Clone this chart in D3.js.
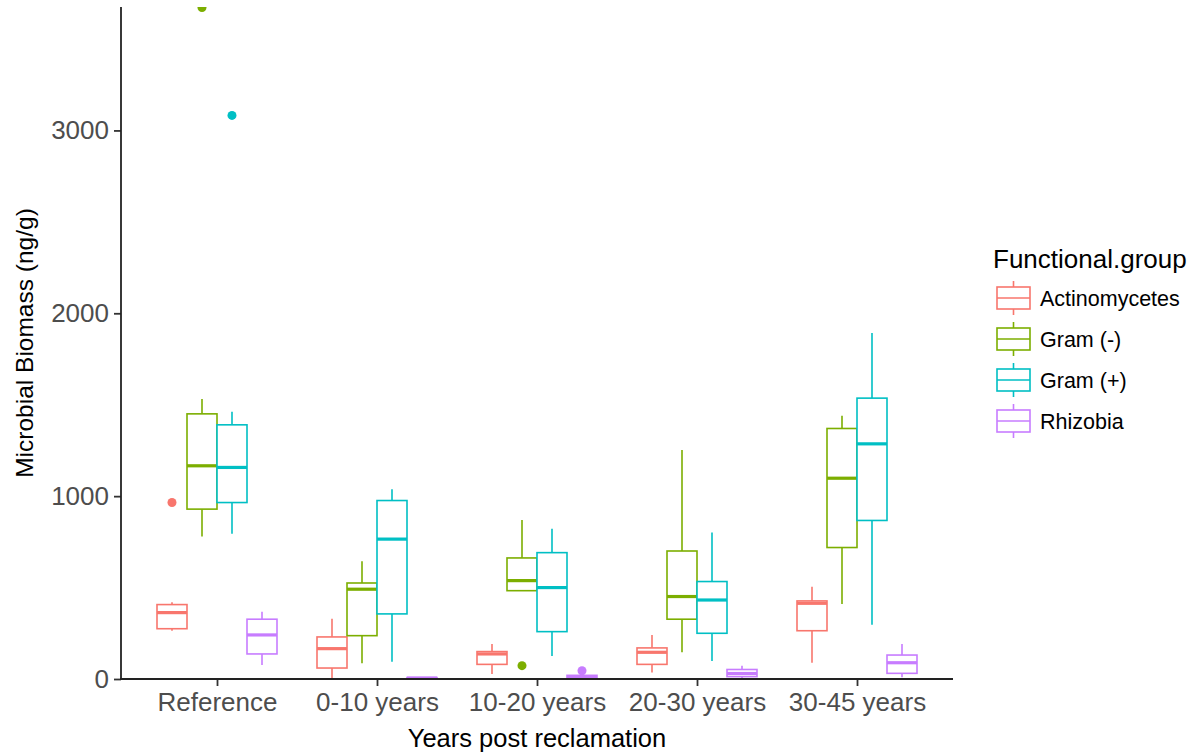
<!DOCTYPE html>
<html>
<head>
<meta charset="utf-8">
<script src="https://cdn.jsdelivr.net/npm/d3@7"></script>
<style>
  body { margin: 0; background: #fff; }
  svg { font-family: "Liberation Sans", Arial, sans-serif; }
</style>
</head>
<body>
<div id="chart"></div>
<script>
// categories and groups
const categories = ["Reference", "0-10 years", "10-20 years", "20-30 years", "30-45 years"];
const groups = ["Actinomycetes", "Gram (-)", "Gram (+)", "Rhizobia"];
const groupColors = ["#F8766D", "#7CAE00", "#00BFC4", "#C77CFF"];

// box stats per category: [lower whisker, q1, median, q3, upper whisker]
const actinomycetes = [[264, 275, 363, 407, 420], [5, 60, 166, 230, 330], [27, 80, 137, 150, 192], [35, 80, 146, 170, 241], [89, 264, 414, 427, 505]];
const gramNeg = [[779, 929, 1166, 1450, 1531], [86, 237, 491, 525, 644], [483, 483, 538, 662, 870], [146, 327, 451, 700, 1253], [410, 719, 1098, 1370, 1440]];
const gramPos = [[794, 965, 1157, 1390, 1461], [95, 356, 765, 976, 1038], [126, 259, 500, 691, 821], [98, 250, 432, 533, 801], [296, 867, 1286, 1536, 1892]];
const rhizobia = [[77, 137, 241, 327, 368], [0, 2, 5, 8, 10], [0, 5, 10, 20, 25], [0, 13, 30, 52, 72], [9, 31, 89, 131, 192]];

// outliers: [category, group, value]
const outliers = [
    ["Reference", "Actinomycetes", 965],
    ["Reference", "Gram (-)", 3672],
    ["Reference", "Gram (+)", 3082],
    ["10-20 years", "Gram (-)", 73],
    ["10-20 years", "Rhizobia", 45]
];

const yTicks = [0, 1000, 2000, 3000];

const width = 1194, height = 755;
const panel = {left: 121, right: 953, top: 7, bottom: 679};

let svg = d3.select("#chart").append("svg")
    .attr("width", width)
    .attr("height", height);

let x = d3.scalePoint()
    .domain(categories)
    .range([panel.left, panel.right])
    .padding(0.6);

let dodge = d3.scaleBand()
    .domain(groups)
    .range([-x.step() * 0.375, x.step() * 0.375]);

let y = d3.scaleLinear()
    .domain([0, 3675])
    .range([panel.bottom, panel.top]);

let color = d3.scaleOrdinal().domain(groups).range(groupColors);

svg.append("clipPath").attr("id", "clip")
    .append("rect")
    .attr("x", panel.left).attr("y", panel.top)
    .attr("width", panel.right - panel.left)
    .attr("height", panel.bottom - panel.top);

// build box table
let stats = [actinomycetes, gramNeg, gramPos, rhizobia];
let boxes = [];
groups.forEach((g, gi) => {
    categories.forEach((c, ci) => {
        let s = stats[gi][ci];
        boxes.push({cat: c, group: g, lo: s[0], q1: s[1], med: s[2], q3: s[3], hi: s[4]});
    });
});

let plot = svg.append("g").attr("clip-path", "url(#clip)");
let bw = dodge.bandwidth();

let boxG = plot.selectAll("g.box")
    .data(boxes)
    .enter().append("g")
    .attr("class", "box")
    .attr("transform", d => `translate(${x(d.cat) + dodge(d.group) + bw / 2},0)`);

// whiskers
boxG.append("line")
    .attr("x1", 0).attr("x2", 0)
    .attr("y1", d => y(d.hi)).attr("y2", d => y(d.q3))
    .attr("stroke", d => color(d.group)).attr("stroke-width", 1.6);
boxG.append("line")
    .attr("x1", 0).attr("x2", 0)
    .attr("y1", d => y(d.q1)).attr("y2", d => y(d.lo))
    .attr("stroke", d => color(d.group)).attr("stroke-width", 1.6);

// box
boxG.append("rect")
    .attr("x", -bw / 2)
    .attr("width", bw)
    .attr("y", d => y(d.q3))
    .attr("height", d => Math.max(0.5, y(d.q1) - y(d.q3)))
    .attr("fill", "white")
    .attr("stroke", d => color(d.group))
    .attr("stroke-width", 1.6);

// median
boxG.append("line")
    .attr("x1", -bw / 2).attr("x2", bw / 2)
    .attr("y1", d => y(d.med)).attr("y2", d => y(d.med))
    .attr("stroke", d => color(d.group))
    .attr("stroke-width", 3.2);

// outliers
plot.selectAll("circle.out")
    .data(outliers)
    .enter().append("circle")
    .attr("class", "out")
    .attr("cx", d => x(d[0]) + dodge(d[1]) + bw / 2)
    .attr("cy", d => y(d[2]))
    .attr("r", 4.5)
    .attr("fill", d => color(d[1]));

// axes
let yAxis = svg.append("g")
    .attr("transform", `translate(${panel.left},0)`)
    .call(d3.axisLeft(y).tickValues(yTicks).tickSize(7).tickPadding(5).tickFormat(d3.format("d")));
let xAxis = svg.append("g")
    .attr("transform", `translate(0,${panel.bottom})`)
    .call(d3.axisBottom(x).tickSize(7).tickPadding(7));

[yAxis, xAxis].forEach(a => {
    a.select(".domain").remove();
    a.selectAll(".tick line").attr("stroke", "#333").attr("stroke-width", 1.8);
    a.selectAll(".tick text")
        .attr("fill", "#4D4D4D")
        .style("font-size", "26px");
});

svg.append("line")
    .attr("x1", panel.left).attr("x2", panel.left)
    .attr("y1", panel.top).attr("y2", panel.bottom + 0.9)
    .attr("stroke", "#222").attr("stroke-width", 1.8);
svg.append("line")
    .attr("x1", panel.left - 0.9).attr("x2", panel.right)
    .attr("y1", panel.bottom).attr("y2", panel.bottom)
    .attr("stroke", "#222").attr("stroke-width", 1.8);

// axis titles
svg.append("text")
    .attr("x", (panel.left + panel.right) / 2)
    .attr("y", 747)
    .attr("text-anchor", "middle")
    .style("font-size", "25.5px")
    .attr("fill", "black")
    .text("Years post reclamation");

svg.append("text")
    .attr("transform", `translate(33,${(panel.top + panel.bottom) / 2}) rotate(-90)`)
    .attr("text-anchor", "middle")
    .style("font-size", "24.5px")
    .attr("fill", "black")
    .text("Microbial Biomass (ng/g)");

// legend
let legend = svg.append("g").attr("transform", "translate(993,0)");
legend.append("text")
    .attr("x", 0).attr("y", 268)
    .style("font-size", "26px")
    .attr("fill", "black")
    .text("Functional.group");

let keys = legend.selectAll("g.key")
    .data(groups)
    .enter().append("g")
    .attr("class", "key")
    .attr("transform", (d, i) => `translate(0,${298 + i * 41})`);

keys.append("line")
    .attr("x1", 20.5).attr("x2", 20.5).attr("y1", -17).attr("y2", 17)
    .attr("stroke", d => color(d)).attr("stroke-width", 1.6);
keys.append("rect")
    .attr("x", 4).attr("y", -11).attr("width", 33).attr("height", 22)
    .attr("fill", "white")
    .attr("stroke", d => color(d)).attr("stroke-width", 1.6);
keys.append("line")
    .attr("x1", 4).attr("x2", 37).attr("y1", 0).attr("y2", 0)
    .attr("stroke", d => color(d)).attr("stroke-width", 1.6);
keys.append("text")
    .attr("x", 47).attr("y", 0)
    .attr("dy", "0.35em")
    .style("font-size", "21.5px")
    .attr("fill", "black")
    .text(d => d);
</script>
</body>
</html>
